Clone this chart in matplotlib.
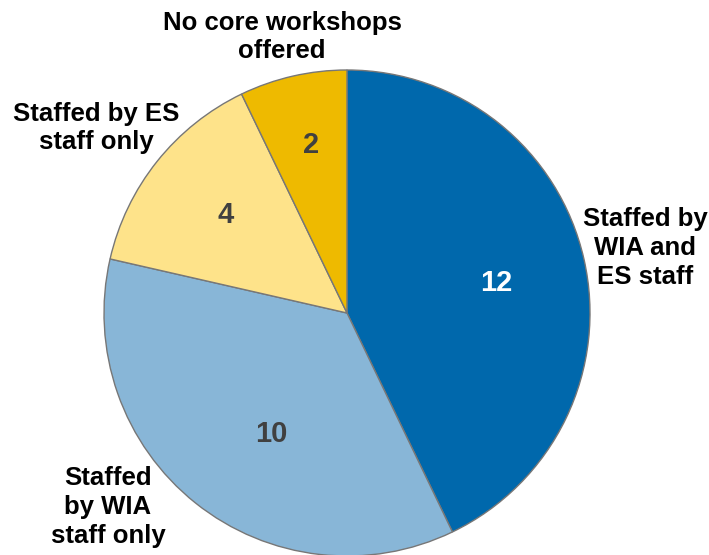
import matplotlib.pyplot as plt

# Datos del gráfico
categorias = ['Staffed by\nWIA and\nES staff', 'Staffed\nby WIA\nstaff only',
              'Staffed by ES\nstaff only', 'No core workshops\noffered']
valores = [12, 10, 4, 2]
colores = ['#0068AC', '#88B6D7', '#FEE38A', '#EEBA00']
color_numero = ['white', '#404040', '#404040', '#404040']

# Posiciones de las etiquetas (pixeles desde arriba)
pos_categoria = [(645, 248), (108, 507), (96, 128), (282, 37)]
pos_numero = [(496, 283), (271, 434), (226, 215), (311, 145)]

ALTO = 555

plt.rcParams['font.family'] = ['Liberation Sans', 'DejaVu Sans']

fig = plt.figure(figsize=(7.09, 5.55), dpi=100)
ax = fig.add_axes([0, 0, 1, 1])

ax.pie(valores, colors=colores, startangle=90, counterclock=False,
       center=(347, ALTO - 313), radius=243, frame=True,
       wedgeprops=dict(edgecolor='#777777', linewidth=1))
ax.set_xlim(0, 709)
ax.set_ylim(0, ALTO)
ax.set_aspect('equal')
ax.axis('off')

for texto, (x, y) in zip(categorias, pos_categoria):
    ax.text(x, ALTO - y, texto, ha='center', va='center', fontsize=18.5,
            fontweight='bold', color='black', linespacing=1.25)

for v, c, (x, y) in zip(valores, color_numero, pos_numero):
    ax.text(x, ALTO - y, str(v), ha='center', va='center', fontsize=21,
            fontweight='bold', color=c)

fig.savefig('out.png', dpi=100)
